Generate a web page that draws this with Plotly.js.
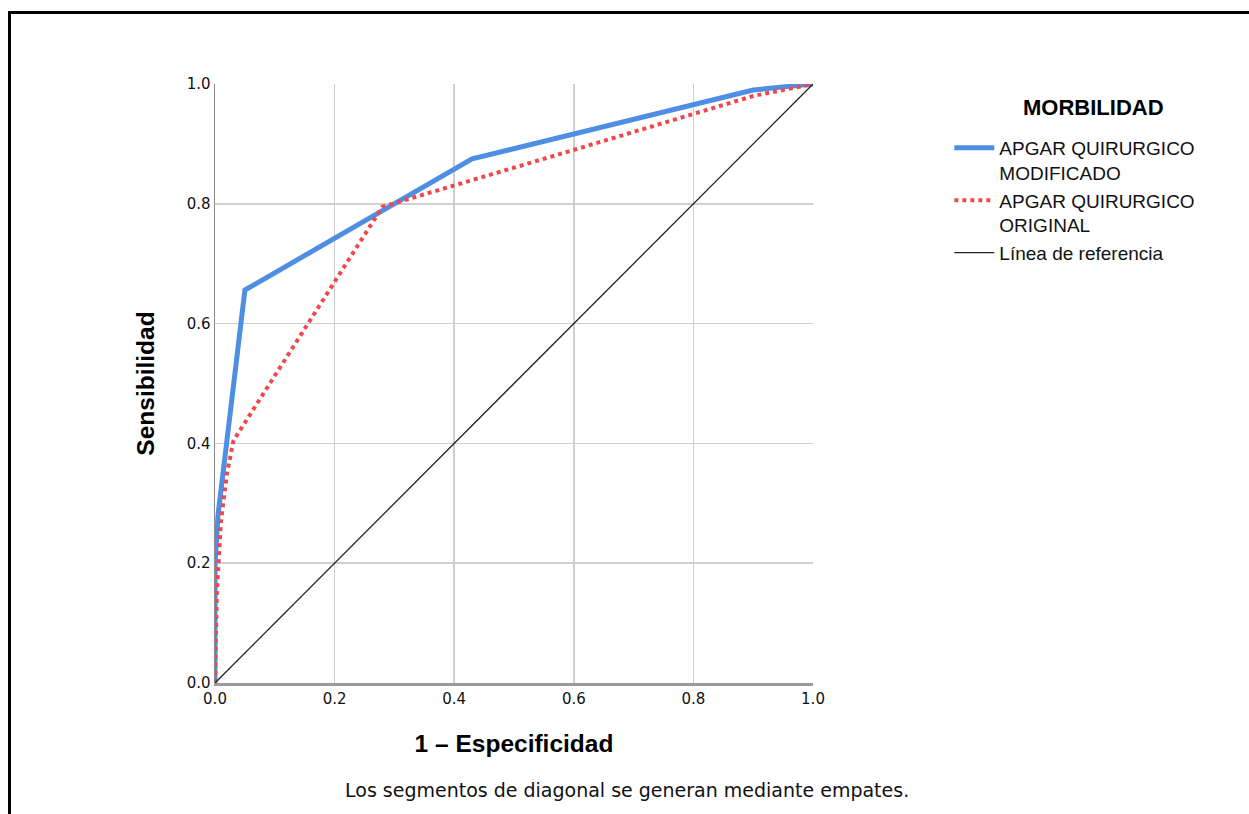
<!DOCTYPE html>
<html>
<head>
<meta charset="utf-8">
<script src="https://cdn.plot.ly/plotly-3.0.1.min.js"></script>
<style>
html,body{margin:0;padding:0;background:#fff;}
#wrap{position:relative;width:1249px;height:814px;}
#frame{position:absolute;left:8px;top:11px;width:1241px;height:803px;border-top:3px solid #000;border-left:3px solid #000;box-sizing:border-box;pointer-events:none;z-index:5;}
#chart{position:absolute;left:0;top:0;width:1249px;height:814px;}
</style>
</head>
<body>
<div id="wrap"><div id="chart"></div><div id="frame"></div></div>
<script>
// ROC curve data (1 - Especificidad, Sensibilidad)
const modX = [0, 0, 0.005, 0.02, 0.05, 0.43, 0.9, 1];
const modY = [0, 0.2, 0.28, 0.4, 0.656, 0.875, 0.99, 1];
const origX = [0, 0.003, 0.01, 0.02, 0.031, 0.28, 0.6, 0.9, 1];
const origY = [0, 0.15, 0.27, 0.35, 0.405, 0.795, 0.89, 0.98, 1];
const refX = [0, 1];
const refY = [0, 1];
const seriesNames = ["APGAR QUIRURGICO<br>MODIFICADO", "APGAR QUIRURGICO<br>ORIGINAL", "Línea de referencia"];
const legendTitle = "MORBILIDAD";
const tickVals = [0, 0.2, 0.4, 0.6, 0.8, 1.0];
const tickText = ["0.0", "0.2", "0.4", "0.6", "0.8", "1.0"];

const traces = [
  {x: modX, y: modY, name: seriesNames[0], mode: "lines",
   line: {color: "#4f8fe3", width: 5}},
  {x: origX, y: origY, name: seriesNames[1], mode: "lines",
   line: {color: "#f0474c", width: 4, dash: "dot"}},
  {x: refX, y: refY, name: seriesNames[2], mode: "lines",
   line: {color: "#222222", width: 1.3}}
];

const axisCommon = {
  range: [0, 1], tickvals: tickVals, ticktext: tickText,
  showgrid: true, gridcolor: "#cfcfcf", gridwidth: 1.5,
  zeroline: false, ticks: "", fixedrange: true,
  tickfont: {family: "DejaVu Sans", size: 15, color: "#111"}
};

const layout = {
  width: 1249, height: 814,
  margin: {l: 215, r: 436, t: 84, b: 131, pad: 0},
  paper_bgcolor: "#fff", plot_bgcolor: "#fff",
  showlegend: true,
  xaxis: Object.assign({}, axisCommon, {
    showline: true, linecolor: "#9a9a9a", linewidth: 3,
    title: {text: "1 – Especificidad", standoff: 28,
      font: {family: "Liberation Sans", size: 24.5, color: "#000", weight: "bold"}}
  }),
  yaxis: Object.assign({}, axisCommon, {
    showline: true, linecolor: "#8a8a8a", linewidth: 1.5,
    title: {text: "Sensibilidad", standoff: 25,
      font: {family: "Liberation Sans", size: 24.5, color: "#000", weight: "bold"}}
  }),
  legend: {
    x: 1.228, xanchor: "left", y: 0.925, yanchor: "top",
    valign: "top", tracegroupgap: 0, itemwidth: 40,
    font: {family: "Liberation Sans", size: 19, color: "#111"}
  },
  annotations: [{
    text: "Los segmentos de diagonal se generan mediante empates.",
    xref: "paper", yref: "paper", x: 0.689, y: -0.178, xanchor: "center", yanchor: "middle",
    showarrow: false, font: {family: "DejaVu Sans", size: 19, color: "#111"}
  }, {
    text: "<b>" + legendTitle + "</b>",
    xref: "paper", yref: "paper", x: 1.469, y: 0.96, xanchor: "center", yanchor: "middle",
    showarrow: false, font: {family: "Liberation Sans", size: 22, color: "#000"}
  }]
};

Plotly.newPlot("chart", traces, layout, {displayModeBar: false, staticPlot: true});
</script>
</body>
</html>
